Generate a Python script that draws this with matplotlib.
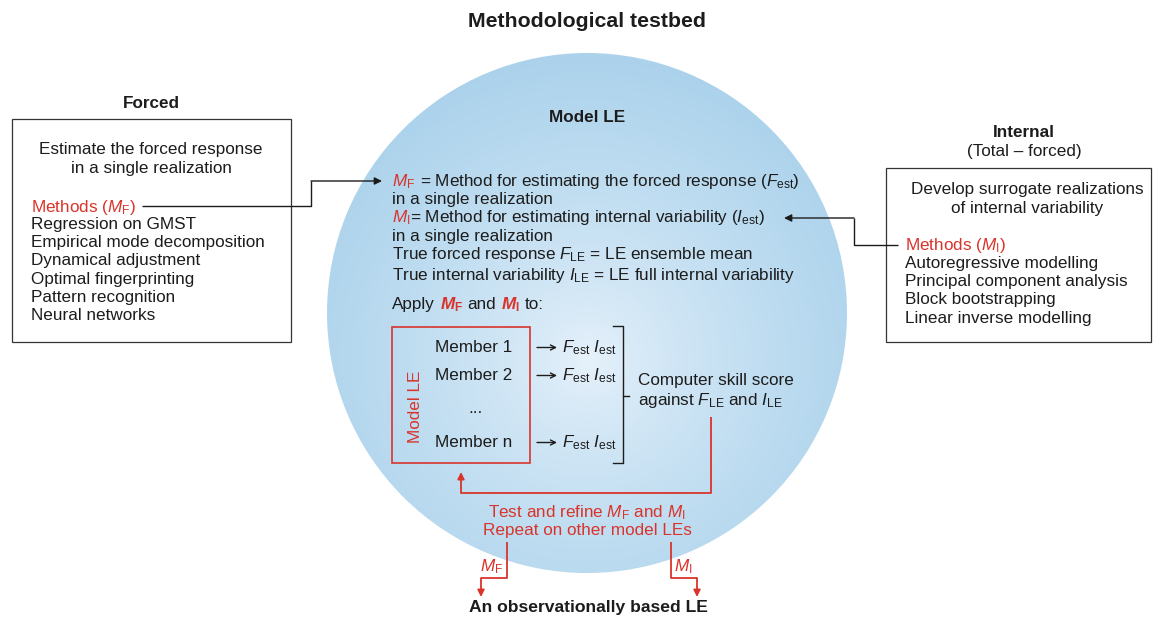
import numpy as np
import matplotlib.pyplot as plt
from matplotlib.patches import Circle, Rectangle

plt.rcParams['font.family'] = ['Liberation Sans', 'DejaVu Sans']
plt.rcParams['mathtext.fontset'] = 'custom'
plt.rcParams['mathtext.rm'] = 'Liberation Sans'
plt.rcParams['mathtext.it'] = 'Liberation Sans:italic'
plt.rcParams['mathtext.bf'] = 'Liberation Sans:bold'
plt.rcParams['mathtext.bfit'] = 'Liberation Sans:italic:bold'

RED = '#d9342b'
INK = '#1c1c1c'
FS = 12.3

# testi del diagramma
title = "Methodological testbed"
forced_title = "Forced"
forced_intro = ["Estimate the forced response", "in a single realization"]
forced_methods = ["Regression on GMST", "Empirical mode decomposition",
                  "Dynamical adjustment", "Optimal fingerprinting",
                  "Pattern recognition", "Neural networks"]
internal_title = ["Internal", "(Total \u2013 forced)"]
internal_intro = ["Develop surrogate realizations", "of internal variability"]
internal_methods = ["Autoregressive modelling", "Principal component analysis",
                    "Block bootstrapping", "Linear inverse modelling"]
members = ["Member 1", "Member 2", "...", "Member n"]
estimates = r"$F_\mathrm{est}$ $I_\mathrm{est}$"
skill = ["Computer skill score", r"against $F_\mathrm{LE}$ and $I_\mathrm{LE}$"]
refine = [r"Test and refine $M_\mathrm{F}$ and $M_\mathrm{I}$", "Repeat on other model LEs"]
bottom_title = "An observationally based LE"

fig = plt.figure(figsize=(11.53, 6.17), dpi=100)
ax = fig.add_axes([0, 0, 1, 1])
ax.set_xlim(0, 1153)
ax.set_ylim(617, 0)
ax.axis('off')
renderer = fig.canvas.get_renderer()


def rich(x, y, parts, size=FS, ha='left'):
    """Scrive pezzi di testo di colori diversi sulla stessa baseline."""
    arts = []
    cx = x
    for s, c, w in parts:
        probe1 = ax.text(0, 0, "x x", fontsize=size, fontweight=w)
        probe2 = ax.text(0, 0, "xx", fontsize=size, fontweight=w)
        sw = probe1.get_window_extent(renderer).width - probe2.get_window_extent(renderer).width
        probe1.remove()
        probe2.remove()
        if s.startswith(' '):
            cx += sw
        t = ax.text(cx, y, s.strip(), color=c, fontsize=size, fontweight=w,
                    va='baseline', ha='left')
        cx += t.get_window_extent(renderer).width
        if s.endswith(' '):
            cx += sw
        arts.append(t)
    if ha == 'center':
        dx = (cx - x) / 2
        for t in arts:
            t.set_x(t.get_position()[0] - dx)
    return arts


def txt(x, y, s, color=INK, size=FS, weight='normal', ha='left', **kw):
    return ax.text(x, y, s, color=color, fontsize=size, fontweight=weight,
                   ha=ha, va='baseline', **kw)


def poly(xs, ys, color=INK, lw=1.0, arrow=True, scale=11):
    ax.plot(xs[:-1], ys[:-1], color=color, lw=lw, solid_capstyle='butt')
    if arrow:
        ax.annotate('', xy=(xs[-1], ys[-1]), xytext=(xs[-2], ys[-2]),
                    arrowprops=dict(arrowstyle='-|>', color=color, lw=lw,
                                    mutation_scale=scale, shrinkA=0, shrinkB=0))
    else:
        ax.plot(xs[-2:], ys[-2:], color=color, lw=lw)


# cerchio con gradiente radiale
cx0, cy0, R = 587, 313, 260
n = 400
gx, gy = np.meshgrid(np.linspace(cx0 - R, cx0 + R, n), np.linspace(cy0 - R, cy0 + R, n))
d = np.hypot(gx - 588, gy - 360) / 300
t = np.clip(d, 0, 1) ** 0.75
c_in = np.array([0.91, 0.95, 0.985])
c_out = np.array([0.675, 0.827, 0.925])
img = c_in[None, None, :] * (1 - t[..., None]) + c_out[None, None, :] * t[..., None]
im = ax.imshow(img, extent=(cx0 - R, cx0 + R, cy0 - R, cy0 + R), origin='lower',
               interpolation='bilinear', zorder=0)
clip = Circle((cx0, cy0), R, transform=ax.transData, fc='none', ec='none')
ax.add_patch(clip)
im.set_clip_path(clip)
ax.set_xlim(0, 1153)
ax.set_ylim(617, 0)

# titoli
txt(587, 27, title, size=15.3, weight='bold', ha='center')
txt(151, 108, forced_title, weight='bold', ha='center')
txt(587, 122, "Model LE", weight='bold', ha='center')
txt(1024, 137, internal_title[0], weight='bold', ha='center')
txt(1024, 156, internal_title[1], ha='center')

# riquadro sinistro
ax.add_patch(Rectangle((12, 119), 279, 223, fc='white', ec='#333333', lw=0.9))
txt(151, 154, forced_intro[0], ha='center')
txt(151, 173, forced_intro[1], ha='center')
txt(31, 212, r"Methods ($M_\mathrm{F}$)", color=RED)
for i, m in enumerate(forced_methods):
    txt(31, 229 + 18.2 * i, m)

# riquadro destro
ax.add_patch(Rectangle((886, 168), 265, 174, fc='white', ec='#333333', lw=0.9))
txt(1027, 194, internal_intro[0], ha='center')
txt(1027, 213, internal_intro[1], ha='center')
txt(905, 250, r"Methods ($M_\mathrm{I}$)", color=RED)
for i, m in enumerate(internal_methods):
    txt(905, 268 + 18.2 * i, m)

# frecce nere
poly([142, 311, 311, 382], [206, 206, 181, 181])
poly([898, 854, 854, 784], [245, 245, 218, 218])

# testo dentro il cerchio
X0 = 392
rich(X0, 186, [(r"$M_\mathrm{F}$", RED, 'normal'),
               (r" = Method for estimating the forced response ($F_\mathrm{est}$)", INK, 'normal')])
txt(X0, 204, "in a single realization")
rich(X0, 222, [(r"$M_\mathrm{I}$", RED, 'normal'),
               (r"= Method for estimating internal variability ($I_\mathrm{est}$)", INK, 'normal')])
txt(X0, 241, "in a single realization")
txt(X0, 259, r"True forced response $F_\mathrm{LE}$ = LE ensemble mean")
txt(X0, 280, r"True internal variability $I_\mathrm{LE}$ = LE full internal variability")
rich(X0, 309, [("Apply ", INK, 'normal'), (r"$\mathbfit{M}_\mathbf{F}$", RED, 'normal'),
               (" and ", INK, 'normal'), (r"$\mathbfit{M}_\mathbf{I}$", RED, 'normal'),
               (" to:", INK, 'normal')])

# box dei membri
ax.add_patch(Rectangle((392, 327), 138, 136, fc='none', ec=RED, lw=1.2))
ax.text(415, 407, "Model LE", color=RED, fontsize=FS, rotation=90, ha='center', va='center')
member_y = [352, 380, 413, 447]
for m, y in zip(members, member_y):
    if m == "...":
        txt(475, y, m, ha='center')
        continue
    txt(435, y, m)
    ax.annotate('', xy=(557, y - 4.5), xytext=(537, y - 4.5),
                arrowprops=dict(arrowstyle='->', color=INK, lw=1.0,
                                mutation_scale=9, shrinkA=0, shrinkB=0))
    txt(562, y, estimates)

# parentesi
ax.plot([613, 623, 623, 613], [326, 326, 463, 463], color=INK, lw=1.0)
ax.plot([623, 629], [396, 396], color=INK, lw=1.0)
txt(638, 385, skill[0])
txt(638, 405, skill[1])

# frecce rosse
poly([711, 711, 461, 461], [417, 493, 493, 472], color=RED, lw=1.3, scale=10)
txt(587, 517, refine[0], color=RED, ha='center')
txt(587, 535, refine[1], color=RED, ha='center')
poly([507, 507, 481, 481], [542, 578, 578, 597], color=RED, lw=1.3, scale=10)
poly([671, 671, 697, 697], [542, 578, 578, 597], color=RED, lw=1.3, scale=10)
txt(492, 571, r"$M_\mathrm{F}$", color=RED, ha='center')
txt(683, 571, r"$M_\mathrm{I}$", color=RED, ha='center')

txt(588, 612, bottom_title, size=12.6, weight='bold', ha='center')

fig.savefig('out.png', dpi=100)
